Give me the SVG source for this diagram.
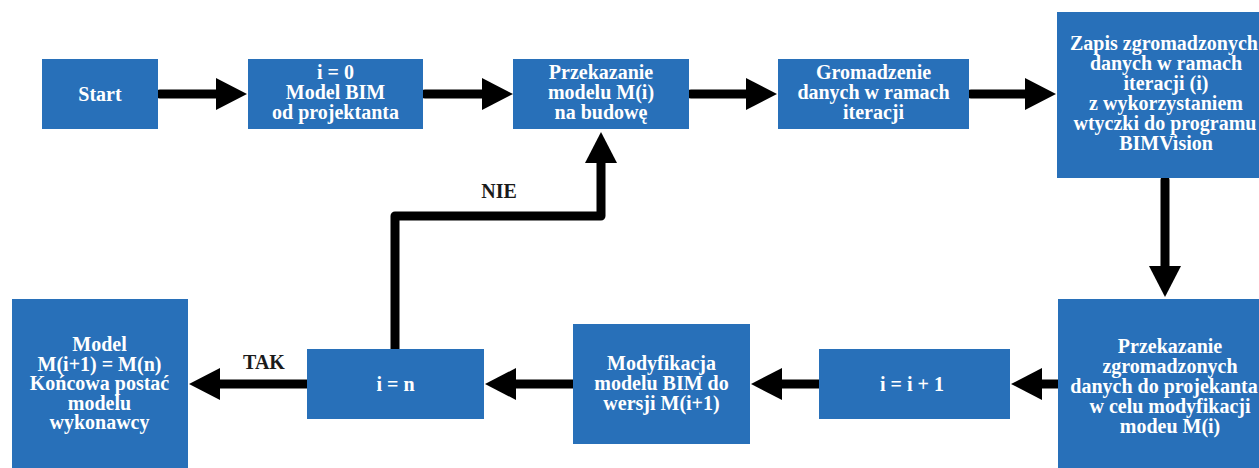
<svg xmlns="http://www.w3.org/2000/svg" width="1259" height="468" viewBox="0 0 1259 468">
<defs>
<marker id="ah" markerUnits="userSpaceOnUse" markerWidth="32" markerHeight="33" refX="0" refY="16" orient="auto" overflow="visible">
<path d="M0,0 L31,16 L0,32 z" fill="#000"/>
</marker>
<style>
.box{fill:#2870B9;}
.t{font-family:"Liberation Serif","Times New Roman",serif;font-weight:bold;font-size:20px;fill:#fff;text-anchor:middle;}
.lbl{font-family:"Liberation Serif","Times New Roman",serif;font-weight:bold;font-size:20px;fill:#1a1a1a;text-anchor:middle;}
.c{fill:none;stroke:#000;stroke-width:9;stroke-linecap:round;stroke-linejoin:round;marker-end:url(#ah);}
</style>
</defs>
<rect width="1259" height="468" fill="#fff"/>
<g id="connectors">
<path class="c" d="M160,94 H216"/>
<path class="c" d="M425,94 H482"/>
<path class="c" d="M691,94 H746"/>
<path class="c" d="M971,94 H1025"/>
<path class="c" d="M1165,180 V266"/>
<path class="c" d="M1060,384 H1042"/>
<path class="c" d="M821,384 H782"/>
<path class="c" d="M575,384 H516"/>
<path class="c" d="M309,384 H220"/>
<path class="c" d="M395,351 V216 H601 V163"/>
<text class="lbl" x="499" y="198">NIE</text>
<text class="lbl" x="264" y="369">TAK</text>
</g>
<g id="start">
<rect class="box" x="42" y="59" width="116" height="70"/>
<text class="t" x="100" y="101">Start</text>
</g>
<g id="model-bim">
<rect class="box" x="248" y="59" width="175" height="70"/>
<text class="t" x="335.5" y="79">i = 0</text>
<text class="t" x="335.5" y="99">Model BIM</text>
<text class="t" x="335.5" y="119">od projektanta</text>
</g>
<g id="przekazanie">
<rect class="box" x="513" y="59" width="176" height="70"/>
<text class="t" x="601" y="79">Przekazanie</text>
<text class="t" x="601" y="99">modelu M(i)</text>
<text class="t" x="601" y="119">na budowę</text>
</g>
<g id="gromadzenie">
<rect class="box" x="778" y="59" width="191" height="70"/>
<text class="t" x="873.5" y="79">Gromadzenie</text>
<text class="t" x="873.5" y="99">danych w ramach</text>
<text class="t" x="873.5" y="119">iteracji</text>
</g>
<g id="zapis">
<rect class="box" x="1057" y="12" width="210" height="166"/>
<text class="t" x="1164" y="49.5">Zapis zgromadzonych</text>
<text class="t" x="1166" y="69.5">danych w ramach</text>
<text class="t" x="1166" y="89.5">iteracji (i)</text>
<text class="t" x="1166" y="109.5">z wykorzystaniem</text>
<text class="t" x="1165" y="129.5">wtyczki do programu</text>
<text class="t" x="1166" y="149.5">BIMVision</text>
</g>
<g id="przekazanie-danych">
<rect class="box" x="1058" y="299" width="210" height="175"/>
<text class="t" x="1170" y="353">Przekazanie</text>
<text class="t" x="1170" y="373">zgromadzonych</text>
<text class="t" x="1164" y="393">danych do projekanta</text>
<text class="t" x="1170" y="413">w celu modyfikacji</text>
<text class="t" x="1170" y="433">modeu M(i)</text>
</g>
<g id="i-plus-1">
<rect class="box" x="819" y="349" width="191" height="70"/>
<text class="t" x="912" y="391">i = i + 1</text>
</g>
<g id="modyfikacja">
<rect class="box" x="573" y="324" width="177" height="120"/>
<text class="t" x="661.5" y="370">Modyfikacja</text>
<text class="t" x="661.5" y="390">modelu BIM do</text>
<text class="t" x="661.5" y="410">wersji M(i+1)</text>
</g>
<g id="i-n">
<rect class="box" x="307" y="349" width="177" height="70"/>
<text class="t" x="395.5" y="391">i = n</text>
</g>
<g id="final">
<rect class="box" x="12" y="299" width="176" height="175"/>
<text class="t" x="99.5" y="351">Model</text>
<text class="t" x="99.5" y="370.5">M(i+1) = M(n)</text>
<text class="t" x="99.5" y="390">Końcowa postać</text>
<text class="t" x="99.5" y="409.5">modelu</text>
<text class="t" x="99.5" y="429">wykonawcy</text>
</g>
</svg>
